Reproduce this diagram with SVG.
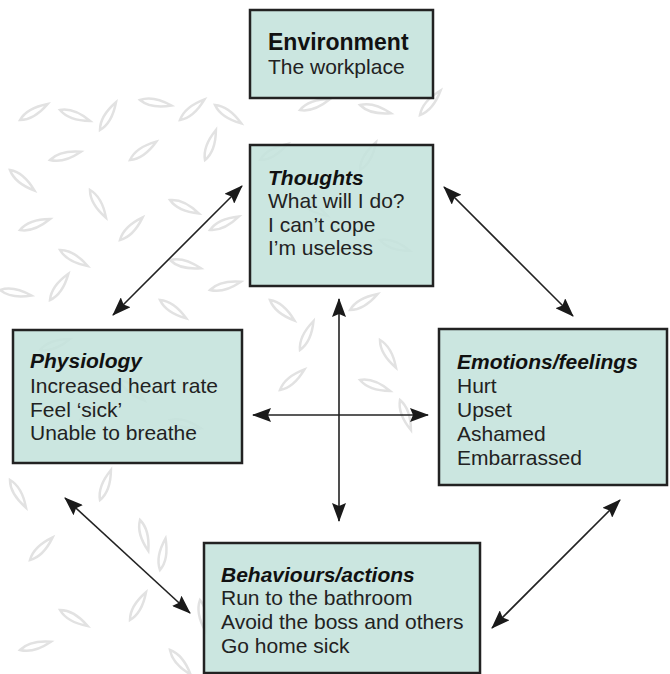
<svg xmlns="http://www.w3.org/2000/svg" xmlns:xlink="http://www.w3.org/1999/xlink" width="670" height="674" viewBox="0 0 670 674">
<style>
.box{fill:#c4e3dc;fill-opacity:0.88;stroke:#222;stroke-width:2.5}
.t{font-family:"Liberation Sans",Arial,sans-serif;font-size:21px;fill:#222}
.h{font-weight:bold;font-style:italic;fill:#111}
.env{font-weight:bold;font-style:normal;fill:#111;font-size:23px}
.con{stroke:#222;stroke-width:1.6;fill:none;marker-start:url(#ah);marker-end:url(#ah)}
.leaf{fill:none;stroke:#e2e2e2;stroke-width:2.5}
</style>
<defs>
<marker id="ah" markerUnits="userSpaceOnUse" markerWidth="19" markerHeight="14" viewBox="0 0 19 14" refX="18" refY="7" orient="auto-start-reverse">
<path d="M0,0 L19,7 L0,14 L3,7 Z" fill="#1a1a1a"/>
</marker>
<path id="lf" d="M0,0 Q12,-7 32,0 Q12,7 0,0 Z"/>
</defs>
<rect width="670" height="674" fill="#fff"/>
<g id="background" class="leaf">
<use xlink:href="#lf" transform="translate(20,120) rotate(-30)"/>
<use xlink:href="#lf" transform="translate(60,110) rotate(20)"/>
<use xlink:href="#lf" transform="translate(100,130) rotate(-60)"/>
<use xlink:href="#lf" transform="translate(140,100) rotate(10)"/>
<use xlink:href="#lf" transform="translate(180,120) rotate(-40)"/>
<use xlink:href="#lf" transform="translate(215,105) rotate(35)"/>
<use xlink:href="#lf" transform="translate(300,110) rotate(-20)"/>
<use xlink:href="#lf" transform="translate(360,105) rotate(15)"/>
<use xlink:href="#lf" transform="translate(420,115) rotate(-50)"/>
<use xlink:href="#lf" transform="translate(10,170) rotate(40)"/>
<use xlink:href="#lf" transform="translate(50,160) rotate(-15)"/>
<use xlink:href="#lf" transform="translate(90,190) rotate(60)"/>
<use xlink:href="#lf" transform="translate(130,160) rotate(-35)"/>
<use xlink:href="#lf" transform="translate(170,200) rotate(25)"/>
<use xlink:href="#lf" transform="translate(205,160) rotate(-70)"/>
<use xlink:href="#lf" transform="translate(20,230) rotate(-20)"/>
<use xlink:href="#lf" transform="translate(60,250) rotate(30)"/>
<use xlink:href="#lf" transform="translate(120,240) rotate(-45)"/>
<use xlink:href="#lf" transform="translate(170,260) rotate(15)"/>
<use xlink:href="#lf" transform="translate(210,230) rotate(-25)"/>
<use xlink:href="#lf" transform="translate(0,290) rotate(10)"/>
<use xlink:href="#lf" transform="translate(50,300) rotate(-55)"/>
<use xlink:href="#lf" transform="translate(160,300) rotate(35)"/>
<use xlink:href="#lf" transform="translate(210,290) rotate(-15)"/>
<use xlink:href="#lf" transform="translate(270,300) rotate(40)"/>
<use xlink:href="#lf" transform="translate(350,310) rotate(-30)"/>
<use xlink:href="#lf" transform="translate(380,340) rotate(60)"/>
<use xlink:href="#lf" transform="translate(300,350) rotate(-65)"/>
<use xlink:href="#lf" transform="translate(360,380) rotate(20)"/>
<use xlink:href="#lf" transform="translate(280,390) rotate(-40)"/>
<use xlink:href="#lf" transform="translate(400,400) rotate(70)"/>
<use xlink:href="#lf" transform="translate(260,160) rotate(-30)"/>
<use xlink:href="#lf" transform="translate(300,200) rotate(30)"/>
<use xlink:href="#lf" transform="translate(360,170) rotate(-60)"/>
<use xlink:href="#lf" transform="translate(380,240) rotate(20)"/>
<use xlink:href="#lf" transform="translate(40,350) rotate(-20)"/>
<use xlink:href="#lf" transform="translate(120,380) rotate(40)"/>
<use xlink:href="#lf" transform="translate(80,420) rotate(-30)"/>
<use xlink:href="#lf" transform="translate(170,420) rotate(15)"/>
<use xlink:href="#lf" transform="translate(10,480) rotate(60)"/>
<use xlink:href="#lf" transform="translate(100,500) rotate(-70)"/>
<use xlink:href="#lf" transform="translate(140,520) rotate(75)"/>
<use xlink:href="#lf" transform="translate(30,560) rotate(-45)"/>
<use xlink:href="#lf" transform="translate(160,570) rotate(-80)"/>
<use xlink:href="#lf" transform="translate(60,610) rotate(30)"/>
<use xlink:href="#lf" transform="translate(130,620) rotate(-60)"/>
<use xlink:href="#lf" transform="translate(200,600) rotate(80)"/>
<use xlink:href="#lf" transform="translate(20,650) rotate(-15)"/>
<use xlink:href="#lf" transform="translate(170,650) rotate(50)"/>
<use xlink:href="#lf" transform="translate(240,630) rotate(-80)"/>
</g>
<g id="connectors">
<line class="con" x1="339" y1="299" x2="339" y2="521"/>
<line class="con" x1="253" y1="415" x2="428" y2="415"/>
<line class="con" x1="242" y1="186" x2="113" y2="315"/>
<line class="con" x1="444" y1="187" x2="573" y2="316"/>
<line class="con" x1="65" y1="498" x2="190" y2="613"/>
<line class="con" x1="620" y1="500" x2="492" y2="628"/>
</g>
<g id="environment">
<rect class="box" x="250" y="10" width="183" height="88"/>
<text class="t env" x="268" y="50">Environment</text>
<text class="t" x="268" y="74">The workplace</text>
</g>
<g id="thoughts">
<rect class="box" x="250" y="145" width="183" height="141"/>
<text class="t h" x="268" y="185">Thoughts</text>
<text class="t" x="268" y="208">What will I do?</text>
<text class="t" x="268" y="232">I can’t cope</text>
<text class="t" x="268" y="255">I’m useless</text>
</g>
<g id="physiology">
<rect class="box" x="13" y="330" width="229" height="133"/>
<text class="t h" x="30" y="368">Physiology</text>
<text class="t" x="30" y="393">Increased heart rate</text>
<text class="t" x="30" y="417">Feel ‘sick’</text>
<text class="t" x="30" y="440">Unable to breathe</text>
</g>
<g id="emotions">
<rect class="box" x="439" y="329" width="228" height="156"/>
<text class="t h" x="457" y="369">Emotions/feelings</text>
<text class="t" x="457" y="393">Hurt</text>
<text class="t" x="457" y="417">Upset</text>
<text class="t" x="457" y="441">Ashamed</text>
<text class="t" x="457" y="465">Embarrassed</text>
</g>
<g id="behaviours">
<rect class="box" x="204" y="543" width="276" height="130"/>
<text class="t h" x="221" y="582">Behaviours/actions</text>
<text class="t" x="221" y="605">Run to the bathroom</text>
<text class="t" x="221" y="629">Avoid the boss and others</text>
<text class="t" x="221" y="653">Go home sick</text>
</g>
</svg>
